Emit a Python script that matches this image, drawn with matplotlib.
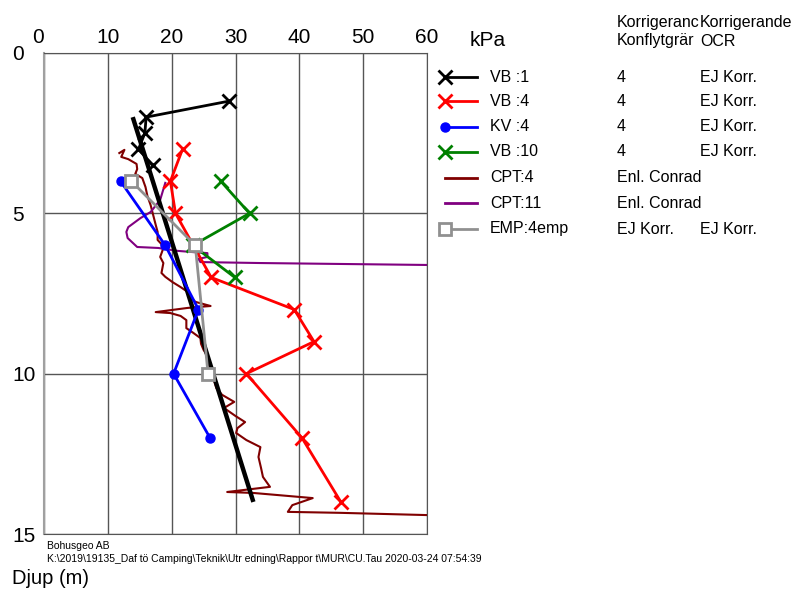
import matplotlib
matplotlib.use("Agg")
import matplotlib.pyplot as plt
from matplotlib.lines import Line2D

plt.rcParams['font.family'] = ['Liberation Sans', 'DejaVu Sans']

W, H = 798, 591

# ---- data (kPa vs depth m) ----
vb1_depth = [1.5, 2.0, 2.5, 3.0, 3.5]
vb1_kpa = [29.0, 16.0, 15.8, 14.8, 17.0]

vb4_depth = [3.0, 4.0, 5.0, 7.0, 8.0, 9.0, 10.0, 12.0, 14.0]
vb4_kpa = [21.7, 19.8, 20.6, 26.2, 39.2, 42.3, 31.7, 40.4, 46.5]

kv4_depth = [4.0, 6.0, 8.0, 10.0, 12.0]
kv4_kpa = [12.0, 19.0, 24.2, 20.3, 26.0]

vb10_depth = [4.0, 5.0, 6.0, 7.0]
vb10_kpa = [27.7, 32.2, 23.3, 29.9]

emp_depth = [4.0, 6.0, 10.0]
emp_kpa = [13.7, 23.7, 25.7]

trend_depth = [2.0, 14.0]
trend_kpa = [13.9, 32.8]

cpt4_kpa = [11.8, 12.6, 12.1, 13.2, 14.5, 14.6, 14.3, 15.4, 15.9, 16.2, 16.7, 17.1,
            17.5, 17.8, 17.8, 18.4, 18.6, 18.2, 18.7, 18.4, 19.0, 20.1, 21.4, 22.5,
            22.9, 23.7, 26.1, 24.2, 22.5, 17.5, 19.8, 21.4, 22.3, 22.3, 23.4, 24.5,
            24.6, 25.0, 25.6, 25.7, 26.2, 26.5, 27.0, 27.9, 29.8, 28.2, 30.0, 31.5,
            30.3, 30.1, 31.7, 33.9, 33.6, 34.0, 34.3, 35.4, 31.2, 28.7, 32.8, 42.1,
            38.9, 38.2, 46.4, 60.0]
cpt4_depth = [3.12, 3.02, 3.24, 3.31, 3.46, 3.62, 3.77, 3.90, 4.18, 4.46, 4.74, 5.05,
              5.36, 5.58, 5.83, 5.96, 6.14, 6.36, 6.55, 6.86, 6.98, 7.14, 7.30, 7.45,
              7.61, 7.76, 7.89, 7.92, 7.95, 8.08, 8.11, 8.20, 8.33, 8.58, 8.73, 8.89,
              9.07, 9.26, 9.45, 9.67, 9.89, 10.13, 10.45, 10.66, 10.88, 11.07, 11.32, 11.51,
              11.70, 11.85, 12.07, 12.29, 12.60, 12.94, 13.22, 13.53, 13.63, 13.69, 13.72, 13.88,
              14.10, 14.31, 14.34, 14.41]

cpt11_kpa = [19.0, 18.2, 16.7, 15.1, 13.2, 12.9, 13.1, 14.6, 17.9, 20.9, 23.4, 25.6,
             25.6, 24.2, 24.5, 33.9, 60.0]
cpt11_depth = [4.05, 4.58, 4.96, 5.15, 5.43, 5.58, 5.77, 6.05, 6.08, 6.17, 6.21, 6.24,
               6.36, 6.42, 6.52, 6.55, 6.61]

x_ticks = [0, 10, 20, 30, 40, 50, 60]
y_ticks = [0, 5, 10, 15]

legend_labels = ["VB :1", "VB :4", "KV :4", "VB :10", "CPT:4", "CPT:11", "EMP:4emp"]
legend_col2 = ["4", "4", "4", "4", "Enl. Conrad", "Enl. Conrad", "EJ Korr."]
legend_col3 = ["EJ Korr.", "EJ Korr.", "EJ Korr.", "EJ Korr.", "", "", "EJ Korr."]

LW = 2.0

# ---- figure ----
fig = plt.figure(figsize=(W / 100, H / 100), dpi=100)
ax = fig.add_axes([44 / W, 1 - 534 / H, (427 - 44) / W, (534 - 53) / H])
ax.set_xlim(0, 60)
ax.set_ylim(15, 0)

ax.xaxis.tick_top()
ax.set_xticks(x_ticks)
ax.set_yticks(y_ticks)
ax.tick_params(axis='both', length=0, labelsize=15)
ax.tick_params(axis='x', pad=4)
ax.tick_params(axis='y', pad=23)
for lab in ax.get_yticklabels():
    lab.set_horizontalalignment('left')
xl = ax.get_xticklabels()
xl[0].set_horizontalalignment('right')
ax.grid(True, color='#555555', linewidth=1)
for s in ['top', 'right', 'bottom']:
    ax.spines[s].set_color('#555555')
ax.spines['left'].set_color('#a0a0a0')
ax.spines['left'].set_linewidth(1.5)

# CPT traces
ax.plot(cpt4_kpa, cpt4_depth, color='#800000', lw=1.5, zorder=3)
ax.plot(cpt11_kpa, cpt11_depth, color='#800080', lw=1.5, zorder=3)
# trend line
ax.plot(trend_kpa, trend_depth, color='black', lw=3.2, zorder=4, solid_capstyle='butt')
# series
ax.plot(vb1_kpa, vb1_depth, color='black', lw=LW, marker='x', ms=9.5, mew=2, zorder=5)
ax.plot(vb4_kpa, vb4_depth, color='#ff0000', lw=LW, marker='x', ms=9.5, mew=2, zorder=5)
ax.plot(kv4_kpa, kv4_depth, color='#0000ff', lw=LW, marker='o', ms=6.5, zorder=5)
ax.plot(vb10_kpa, vb10_depth, color='#008000', lw=LW, marker='x', ms=9.5, mew=2, zorder=5)
ax.plot(emp_kpa, emp_depth, color='#909090', lw=LW, marker='s', ms=8, mew=2,
        mfc='white', mec='#909090', zorder=6)

# ---- legend (manual) ----
def fx(x):
    return x / W

def fy(y):
    return 1 - y / H

styles = [
    dict(color='black', marker='x', ms=9.5, mew=2),
    dict(color='#ff0000', marker='x', ms=9.5, mew=2),
    dict(color='#0000ff', marker='o', ms=6.5),
    dict(color='#008000', marker='x', ms=9.5, mew=2),
    dict(color='#800000', marker=None),
    dict(color='#800080', marker=None),
    dict(color='#909090', marker='s', ms=8, mew=2, mfc='white', mec='#909090'),
]
row_y = [77, 101, 127, 152, 178, 203, 229]
for i, (lab, c2, c3) in enumerate(zip(legend_labels, legend_col2, legend_col3)):
    y = row_y[i]
    st = styles[i]
    fig.add_artist(Line2D([fx(445), fx(477)], [fy(y), fy(y)], color=st['color'],
                          lw=LW, transform=fig.transFigure))
    if st.get('marker'):
        kw = {k: v for k, v in st.items() if k != 'color'}
        fig.add_artist(Line2D([fx(445)], [fy(y)], color=st['color'], lw=0,
                              transform=fig.transFigure, **kw))
    fig.text(fx(490), fy(y), lab, fontsize=11.5, va='center', ha='left')
    fig.text(fx(617), fy(y), c2, fontsize=11.5, va='center', ha='left')
    if c3:
        fig.text(fx(700), fy(y), c3, fontsize=11.5, va='center', ha='left')

fig.text(fx(617), fy(22), "Korrigeranc", fontsize=11.5, va='center', ha='left')
fig.text(fx(700), fy(22), "Korrigerande", fontsize=11.5, va='center', ha='left')
fig.text(fx(617), fy(41), "Konflytgrär", fontsize=11.5, va='center', ha='left')
fig.text(fx(700), fy(41), "OCR", fontsize=11.5, va='center', ha='left')

fig.text(fx(470), fy(41), "kPa", fontsize=15, va='center', ha='left')

fig.text(fx(47), fy(546), "Bohusgeo AB", fontsize=7.5, va='center', ha='left')
fig.text(fx(47), fy(559),
         "K:\\2019\\19135_Daf tö Camping\\Teknik\\Utr edning\\Rappor t\\MUR\\CU.Tau 2020-03-24 07:54:39",
         fontsize=7.5, va='center', ha='left')
fig.text(fx(12), fy(578), "Djup (m)", fontsize=14.5, va='center', ha='left')

fig.savefig("out.png", dpi=100)
